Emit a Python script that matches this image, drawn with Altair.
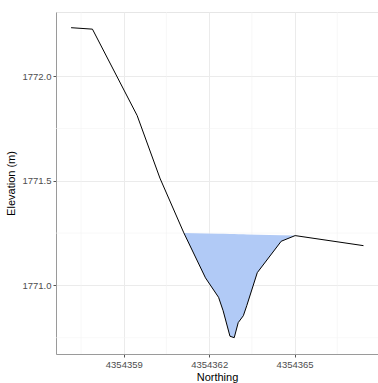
import altair as alt
import pandas as pd

# Ground profile
northing = [4354357.15, 4354357.90, 4354359.47, 4354360.27, 4354361.11, 4354361.87,
            4354362.33, 4354362.49, 4354362.73, 4354362.88, 4354363.02, 4354363.20,
            4354363.32, 4354363.69, 4354364.53, 4354365.02, 4354367.42]
elevation = [1772.232, 1772.225, 1771.812, 1771.513, 1771.251, 1771.036,
             1770.943, 1770.879, 1770.757, 1770.750, 1770.822, 1770.855,
             1770.903, 1771.061, 1771.211, 1771.238, 1771.190]

# Water surface endpoints
water_left = (4354361.11, 1771.251)
water_right = (4354365.02, 1771.238)

x_ticks = [4354359, 4354362, 4354365]
y_ticks = [1771.0, 1771.5, 1772.0]
x_minor = [4354357.5, 4354360.5, 4354363.5, 4354366.5]
y_minor = [1770.75, 1771.25, 1771.75]

x_domain = [4354356.62, 4354367.93]
y_domain = [1770.672, 1772.307]

ground = pd.DataFrame({"Northing": northing, "Elevation": elevation})

wrows = []
for n, e in zip(northing, elevation):
    if water_left[0] - 1e-9 <= n <= water_right[0] + 1e-9:
        t = (n - water_left[0]) / (water_right[0] - water_left[0])
        surf = water_left[1] + t * (water_right[1] - water_left[1])
        wrows.append({"Northing": n, "Elevation": e, "Surface": surf})
water = pd.DataFrame(wrows)

FONT = "Liberation Sans"
xs = alt.Scale(domain=x_domain, nice=False, zero=False)
ys = alt.Scale(domain=y_domain, nice=False, zero=False)

xminor = alt.Chart(pd.DataFrame({"v": x_minor})).mark_rule(color="#f3f3f3", strokeWidth=0.6).encode(
    x=alt.X("v:Q", scale=xs))
yminor = alt.Chart(pd.DataFrame({"v": y_minor})).mark_rule(color="#f3f3f3", strokeWidth=0.6).encode(
    y=alt.Y("v:Q", scale=ys))

area = alt.Chart(water).mark_area(color="#B1CAF6", opacity=1).encode(
    x=alt.X("Northing:Q", scale=xs),
    y=alt.Y("Elevation:Q", scale=ys),
    y2="Surface:Q",
)

line = alt.Chart(ground).mark_line(color="black", strokeWidth=1).encode(
    x=alt.X("Northing:Q", scale=xs,
            axis=alt.Axis(values=x_ticks, format="d", title="Northing")),
    y=alt.Y("Elevation:Q", scale=ys,
            axis=alt.Axis(values=y_ticks, format=".1f", title="Elevation (m)")),
)

chart = alt.layer(xminor, yminor, area, line).properties(
    width=322, height=342,
    padding={"left": 56, "top": 12, "right": 0, "bottom": 29},
    autosize=alt.AutoSizeParams(type="none"),
).configure_view(
    stroke="#e6e6e6", strokeWidth=1
).configure_axis(
    labelFont=FONT, titleFont=FONT,
    labelFontSize=9.5, labelColor="#4d4d4d",
    titleFontSize=11, titleColor="black", titleFontWeight="normal",
    gridColor="#ebebeb", gridWidth=1,
    domainColor="#9a9a9a", domainWidth=1,
    tickColor="#555555", tickSize=3,
    labelPadding=2,
).configure_axisX(
    titlePadding=3,
).configure_axisY(
    titlePadding=5,
)

chart.save("out.html", embed_options={"renderer": "svg", "actions": False})
